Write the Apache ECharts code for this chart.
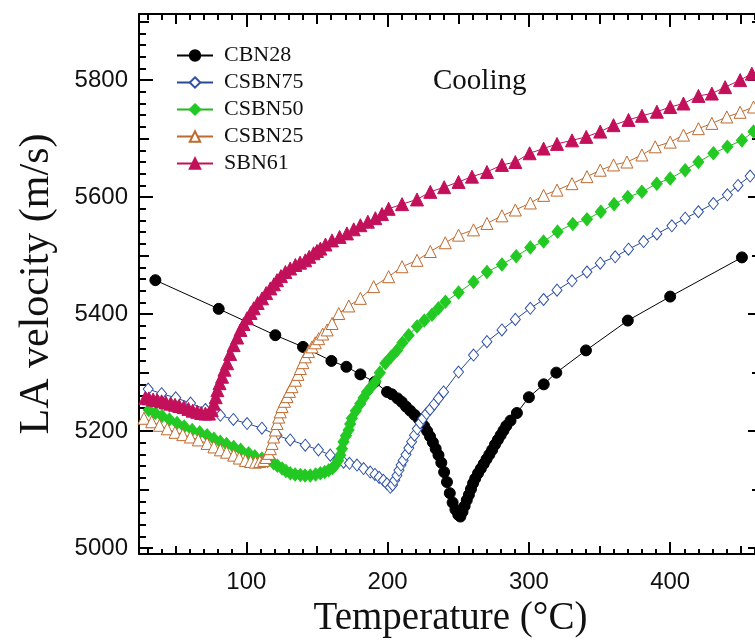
<!DOCTYPE html>
<html>
<head>
<meta charset="utf-8">
<script src="https://cdn.jsdelivr.net/npm/echarts@6/dist/echarts.min.js"></script>
<style>
html,body{margin:0;padding:0;background:#fff;}
#chart{width:755px;height:642px;}
</style>
</head>
<body>
<div id="chart"></div>
<script>
// ---------------- data (Temperature °C, LA velocity m/s) ----------------
var seriesNames = ['CBN28', 'CSBN75', 'CSBN50', 'CSBN25', 'SBN61'];

var cbn28 = [[35.6,5458],[80.4,5409],[120.5,5364],[140.1,5344],[160.2,5320],[170.8,5310],[180.7,5297],[190.8,5284],[199.6,5267],
[203,5263],[207,5256],[210,5250],[213,5242],[216,5235],[219,5228],[222,5221],[224,5215],[226,5208],[228,5200],[230,5191],[232,5181],
[234,5170],[236,5159],[238,5146],[240,5130],[242,5113],[244,5094],[246,5078],[248,5066],[250,5057],[251.5,5054],
[253,5062],[254.5,5072],[256,5082],[257.5,5091],[259,5101],[260.5,5111],[262,5119],[264,5128],[266,5136],[268,5144],[270,5152],
[272,5160],[274,5168],[276,5177],[278,5185],[280,5193],[282,5201],[284,5209],[287,5218],[291.5,5231],[300,5258],[310.5,5280],
[319.4,5300],[340.4,5338],[370,5389],[400,5430],[450.8,5497]];

var csbn75 = [[30.5,5272],[40,5264],[50,5257],[60.5,5248],[71,5237],[81.6,5227],[90.8,5220],[100.5,5213],[111,5205],[121.7,5193],
[131,5185],[141.7,5176],[151,5168],[159.4,5159],[165,5152],[168.8,5147],[173,5145],[178.3,5142],[183,5136],[187.7,5130],[191,5126],
[194,5121],[197,5116],[199.5,5110],[201.9,5104],[203.5,5108],[205,5116],[206.6,5124],[208,5133],[209.5,5142],[211,5150],[213,5160],
[215,5171],[217,5182],[219,5193],[221,5204],[223,5214],[225,5222],[227.5,5230],[230,5237],[233,5246],[236,5256],[239.6,5267],
[250.2,5301],[260.8,5330],[270.3,5353],[280.9,5373],[290.4,5391],[301,5410],[310.4,5425],[319.9,5441],[330.5,5457],[341.1,5472],
[350.5,5487],[361.1,5498],[370.5,5511],[381.2,5524],[390.6,5537],[401.2,5551],[410.6,5564],[420,5575],[430.6,5589],[440.5,5604],
[448,5620],[456.6,5636]];

var csbn50 = [[30.9,5236],[35.5,5231],[40.3,5226],[45.5,5220],[50.9,5214],[56,5208],[61.6,5202],[67,5198],[72.2,5193],[77,5187],
[81.5,5182],[86,5178],[91,5173],[96,5168],[101.6,5162],[106,5157],[111,5153],[115,5149],[119.3,5145],[122,5141],[125.3,5136],
[128,5132],[131.1,5128],[134.5,5126],[138.2,5125],[141.5,5124],[145.3,5124],[149,5126],[152.4,5128],[155.5,5130],[158.3,5133],
[161,5137],[163,5142],[165,5150],[166.5,5159],[167.7,5170],[168.8,5182],[170.5,5192],[172.4,5202],[173.5,5212],[174.7,5222],
[177.5,5235],[180.6,5247],[183,5257],[185.4,5267],[188.5,5276],[191.3,5285],[194.5,5300],[198.4,5316],[202.5,5327],[206.6,5338],
[210.5,5351],[214.9,5364],[220.8,5379],[226,5389],[231.4,5399],[236,5410],[240.9,5421],[250.2,5437],[260.8,5455],[270.3,5472],
[280.9,5485],[291,5499],[301,5514],[310.4,5524],[320.3,5541],[331.1,5554],[341.1,5562],[350.9,5575],[360.3,5588],[370,5600],
[380,5609],[390.5,5623],[400,5632],[410.6,5646],[420,5660],[430.6,5675],[440.5,5686],[450.8,5697],[459,5712]];

var csbn25 = [[27.5,5222],[33,5216],[38.5,5210],[44,5204],[49.5,5198],[55,5194],[60.4,5190],[66,5185],[72.2,5179],[77,5173],
[81.6,5168],[86,5164],[91,5159],[95,5154],[99.3,5150],[103,5148],[106.4,5147],[109.5,5148],[112.3,5150],[114,5155],[115.8,5162],
[117,5170],[118.2,5179],[119.3,5190],[120.5,5202],[121.7,5213],[122.9,5224],[124,5233],[125.3,5242],[127,5251],[128.8,5259],
[130.5,5268],[132.3,5276],[134.7,5287],[136.5,5297],[138.2,5307],[140,5317],[141.7,5327],[144,5336],[146.5,5344],[148.8,5351],
[151.2,5358],[154,5366],[157.2,5373],[160.7,5384],[165.4,5401],[172.5,5414],[180.7,5427],[190.1,5447],[200.7,5464],[210.2,5481],
[220.8,5492],[230.2,5507],[240.8,5522],[250.2,5535],[260.8,5544],[270.3,5555],[280.9,5568],[290.4,5578],[301,5590],[310.4,5603],
[319.9,5612],[330.5,5623],[341.1,5635],[350.5,5646],[359.9,5655],[369.4,5660],[380,5672],[389.4,5686],[400,5694],[409.4,5706],
[420,5717],[429.5,5726],[440.1,5737],[449.5,5745],[459,5754]];

var sbn61 = [[28.5,5257],[31,5256],[34,5254],[36.8,5253],[40,5251],[43,5249],[46.3,5247],[49.5,5245],[52.5,5243],[55.7,5241],
[59,5238],[62,5235],[65.2,5233],[68,5231],[71,5230],[73.5,5230],[75.5,5236],[77,5247],[78.3,5258],[79.5,5270],[81,5282],
[82.8,5293],[84.5,5305],[86.4,5316],[88.5,5332],[91,5347],[93.5,5360],[95.8,5373],[98,5383],[100.5,5393],[103,5402],[105.2,5410],
[108,5419],[111.1,5427],[114,5436],[117,5444],[119.5,5451],[121.7,5458],[124.5,5465],[127.6,5472],[131,5478],[134.7,5484],
[138,5488],[141.7,5492],[144.5,5498],[147.6,5504],[150,5508],[152.4,5512],[156,5519],[160.6,5526],[166,5532],[171.2,5538],
[176,5545],[180.7,5552],[186,5558],[191.3,5564],[196,5571],[200.7,5580],[210.2,5588],[220.8,5596],[230.2,5609],[240,5617],
[250.2,5626],[259.7,5635],[270.3,5643],[280.9,5655],[290.4,5660],[300.5,5675],[310.4,5683],[319.9,5691],[330.5,5697],[340.6,5703],
[350.5,5712],[359.9,5723],[370.5,5732],[380,5739],[390.6,5746],[400,5754],[409.4,5760],[420,5773],[429.5,5777],[438.9,5788],
[449.5,5800],[457.8,5811]];

// tick values
var xMajorTicks = [100, 200, 300, 400];
var xMidTicks = [50, 150, 250, 350, 450];
var yMajorTicks = [5000, 5200, 5400, 5600, 5800];
var yMidTicks = [5100, 5300, 5500, 5700, 5900];
var xMinorTicks = [];
for (var t = 30; t <= 460; t += 10) { if (t % 50 !== 0) xMinorTicks.push(t); }
var yMinorTicks = [];
for (var v = 5000; v <= 5900; v += 20) { if (v % 100 !== 0) yMinorTicks.push(v); }

var X_MIN = 24, X_MAX = 465, Y_MIN = 4990, Y_MAX = 5913;

// ---------------- chart ----------------
var chart = echarts.init(document.getElementById('chart'), null, {renderer: 'canvas'});
var SERIF = '"Liberation Serif", "Times New Roman", serif';
var SANS = '"Liberation Sans", Arial, sans-serif';
function plain(v) { return String(Math.round(v)); }

function xAxisCfg(pos, ticks, len, main) {
  return {
    type: 'value', position: pos, min: X_MIN, max: X_MAX,
    axisLine: {show: main, onZero: false, lineStyle: {color: '#000', width: 2}},
    axisTick: {show: true, inside: true, length: len, customValues: ticks, lineStyle: {color: '#000', width: 2}},
    axisLabel: main && pos === 'bottom' ? {show: true, customValues: xMajorTicks, formatter: plain, color: '#111', fontFamily: SANS, fontSize: 24, margin: 16} : {show: false},
    splitLine: {show: false},
    name: main && pos === 'bottom' ? 'Temperature (\u00B0C)' : '',
    nameLocation: 'middle', nameGap: 42,
    nameTextStyle: {fontFamily: SERIF, fontSize: 39, color: '#111'}
  };
}
function yAxisCfg(pos, ticks, len, main) {
  return {
    type: 'value', position: pos, min: Y_MIN, max: Y_MAX,
    axisLine: {show: main, onZero: false, lineStyle: {color: '#000', width: 2}},
    axisTick: {show: true, inside: true, length: len, customValues: ticks, lineStyle: {color: '#000', width: 2}},
    axisLabel: main && pos === 'left' ? {show: true, customValues: yMajorTicks, formatter: plain, color: '#111', fontFamily: SANS, fontSize: 24, margin: 11} : {show: false},
    splitLine: {show: false},
    name: main && pos === 'left' ? 'LA velocity (m/s)' : '',
    nameLocation: 'middle', nameGap: 81,
    nameTextStyle: {fontFamily: SERIF, fontSize: 42, color: '#111'}
  };
}

var xAxes = [
  xAxisCfg('bottom', xMajorTicks, 12, true),
  xAxisCfg('bottom', xMidTicks, 8, false),
  xAxisCfg('bottom', xMinorTicks, 5, false),
  xAxisCfg('top', xMajorTicks, 13, true),
  xAxisCfg('top', xMidTicks, 10, false),
  xAxisCfg('top', xMinorTicks, 6, false)
];
var yAxes = [
  yAxisCfg('left', yMajorTicks, 14, true),
  yAxisCfg('left', yMidTicks, 10, false),
  yAxisCfg('left', yMinorTicks, 7, false),
  yAxisCfg('right', yMajorTicks, 14, true),
  yAxisCfg('right', yMidTicks, 10, false),
  yAxisCfg('right', yMinorTicks, 7, false)
];

function mkSeries(name, data, symbol, size, fill, stroke, lineColor) {
  return {
    name: name, type: 'line', data: data, xAxisIndex: 0, yAxisIndex: 0,
    symbol: symbol, symbolSize: size, showSymbol: true, showAllSymbol: true,
    lineStyle: {color: lineColor, width: 1},
    itemStyle: {color: fill, borderColor: stroke, borderWidth: 1},
    emphasis: {disabled: true}, animation: false, clip: false
  };
}

var option = {
  backgroundColor: '#fff',
  animation: false,
  grid: {left: 139, right: -7, top: 14, bottom: 88, containLabel: false, outerBoundsMode: 'none'},
  xAxis: xAxes,
  yAxis: yAxes,
  legend: {
    orient: 'vertical', left: 171, top: 37, itemGap: 0,
    itemWidth: 36, itemHeight: 13,
    data: seriesNames,
    textStyle: {fontFamily: SERIF, fontSize: 22, color: '#111', lineHeight: 27, padding: [0, 0, 0, 6]},
    selectedMode: false
  },
  graphic: [{
    type: 'text', left: 433, top: 67,
    style: {text: 'Cooling', font: '29px ' + SERIF, fill: '#111'}
  }],
  series: [
    mkSeries('CBN28', cbn28, 'circle', 11, '#000', '#000', '#000'),
    mkSeries('CSBN75', csbn75, 'diamond', [10, 12], '#fff', '#2f52a8', '#2a4a96'),
    mkSeries('CSBN50', csbn50, 'diamond', [11, 13], '#22c922', '#22c922', '#22b822'),
    mkSeries('CSBN25', csbn25, 'triangle', 12, '#fff', '#bf6a2e', '#bf6a2e'),
    mkSeries('SBN61', sbn61, 'triangle', 13, '#c2105a', '#c2105a', '#c2105a')
  ]
};
chart.setOption(option);
</script>
</body>
</html>
